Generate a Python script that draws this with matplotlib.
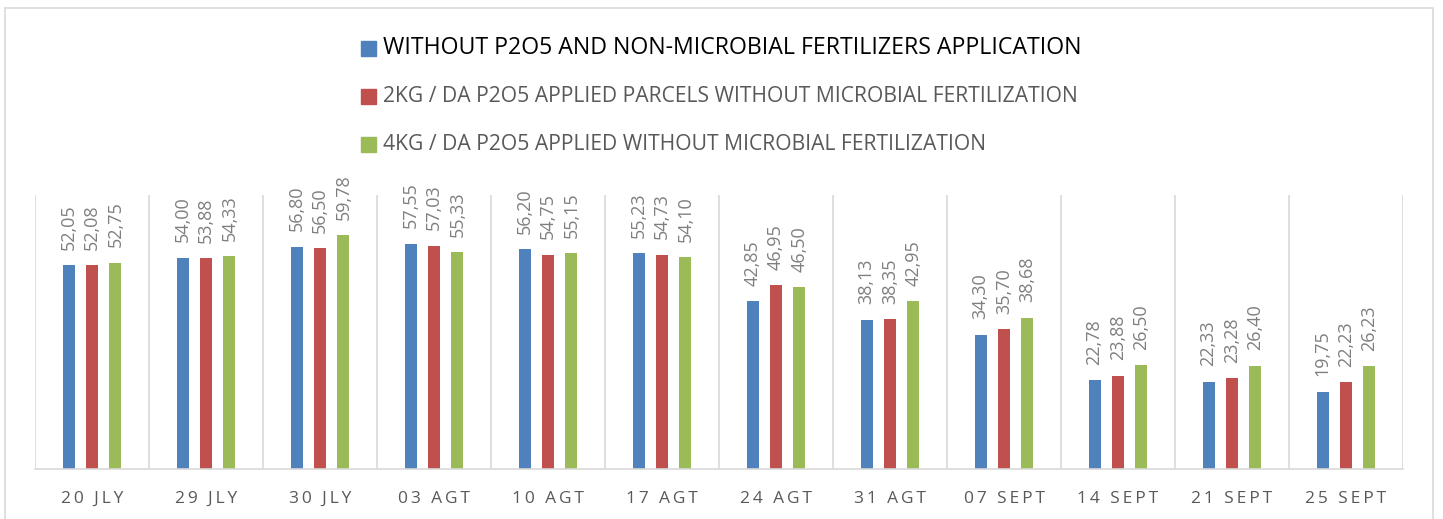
import matplotlib
matplotlib.use('Agg')
import matplotlib.pyplot as plt
from matplotlib.patches import Rectangle
import numpy as np

# categories and series values
dates = ['20 JLY', '29 JLY', '30 JLY', '03 AGT', '10 AGT', '17 AGT',
         '24 AGT', '31 AGT', '07 SEPT', '14 SEPT', '21 SEPT', '25 SEPT']
series_names = ['WITHOUT P2O5 AND NON-MICROBIAL FERTILIZERS APPLICATION',
                '2KG / DA P2O5 APPLIED PARCELS WITHOUT MICROBIAL FERTILIZATION',
                '4KG / DA P2O5 APPLIED WITHOUT MICROBIAL FERTILIZATION']
no_p2o5 = [52.05, 54.00, 56.80, 57.55, 56.20, 55.23, 42.85, 38.13, 34.30, 22.78, 22.33, 19.75]
p2o5_2kg = [52.08, 53.88, 56.50, 57.03, 54.75, 54.73, 46.95, 38.35, 35.70, 23.88, 23.28, 22.23]
p2o5_4kg = [52.75, 54.33, 59.78, 55.33, 55.15, 54.10, 46.50, 42.95, 38.68, 26.50, 26.40, 26.23]

colors = ['#4F81BD', '#C0504D', '#9BBB59']
plt.rcParams['font.family'] = ['Open Sans', 'DejaVu Sans']

W, H = 1443, 519
fig = plt.figure(figsize=(W / 100, H / 100), dpi=100)

# chart border (runs off the bottom of the image)
fig.patches.append(Rectangle((5 / W, -0.1), (1433 - 5) / W, 1.1 - 8 / H,
                             transform=fig.transFigure, fill=False,
                             edgecolor='#d9d9d9', lw=1.2))

ax = fig.add_axes([35 / W, (H - 469) / H, (1403 - 35) / W, (469 - 195) / H])
x = np.arange(len(dates))
offs = [-0.206, 0, 0.206]
for vals, off, c in zip([no_p2o5, p2o5_2kg, p2o5_4kg], offs, colors):
    bars = ax.bar(x + off, vals, width=0.105, color=c, zorder=2)
    for b, v in zip(bars, vals):
        ax.annotate(f'{v:.2f}'.replace('.', ','),
                    (b.get_x() + b.get_width() / 2, v),
                    xytext=(0, 11), textcoords='offset points',
                    rotation=90, ha='center', va='bottom',
                    fontsize=13, color='#7f7f7f')

ax.set_xlim(-0.5, len(dates) - 0.5)
ax.set_ylim(0, 70)
for g in np.arange(-0.5, len(dates), 1):
    ax.axvline(g, color='#d9d9d9', lw=1.2, zorder=1)
for s in ['top', 'left', 'right']:
    ax.spines[s].set_visible(False)
ax.spines['bottom'].set_color('#d9d9d9')
ax.spines['bottom'].set_linewidth(1.2)
ax.set_yticks([])
ax.set_xticks(x)
# letter-spaced category labels
ax.set_xticklabels(['\u2009'.join(d) for d in dates], fontsize=12.5, color='#595959')
ax.tick_params(axis='x', length=0, pad=16)

# legend, stacked at the top
leg_y = [48.5, 96.5, 144.5]
leg_col = ['black', '#595959', '#595959']
leg_size = [16.7, 15.2, 15.2]
for name, c, yy, tc, fs in zip(series_names, colors, leg_y, leg_col, leg_size):
    fig.patches.append(Rectangle((361 / W, 1 - (yy + 7.5) / H), 15 / W, 15 / H,
                                 transform=fig.transFigure, color=c))
    fig.text(383 / W, 1 - yy / H, name, fontsize=fs, color=tc, va='center', ha='left')

fig.savefig('out.png', dpi=100)
